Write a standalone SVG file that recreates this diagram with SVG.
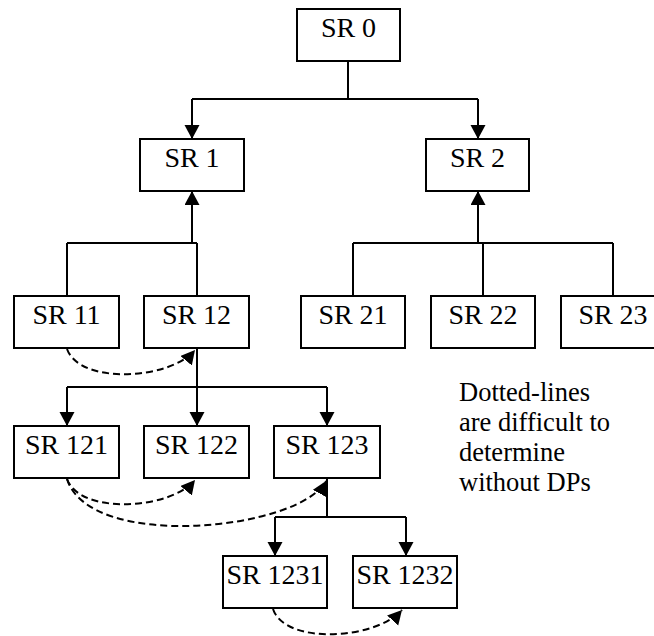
<svg xmlns="http://www.w3.org/2000/svg" width="654" height="636" viewBox="0 0 654 636">
  <style>
    .box rect { fill: #fff; stroke: #000; stroke-width: 2; }
    .box text { font-family: "Liberation Serif", serif; font-size: 28px; text-anchor: middle; fill: #000; }
    .wire { fill: none; stroke: #000; stroke-width: 2; }
    .dash { fill: none; stroke: #000; stroke-width: 2; stroke-dasharray: 7 4; }
    .note { font-family: "Liberation Serif", serif; font-size: 26.5px; fill: #000; }
  </style>
  <defs>
    <marker id="head" markerUnits="userSpaceOnUse" markerWidth="15" markerHeight="16" refX="14" refY="7.5" orient="auto">
      <path d="M0,0 L14,7.5 L0,15 z" fill="#000" stroke="none"/>
    </marker>
  </defs>

  <!-- connectors -->
  <g id="connectors">
    <!-- SR 0 to SR 1 / SR 2 -->
    <path class="wire" d="M348,61 V99 M192,99 H478"/>
    <path class="wire" d="M192,99 V139" marker-end="url(#head)"/>
    <path class="wire" d="M478,99 V139" marker-end="url(#head)"/>
    <!-- SR 11 / SR 12 up to SR 1 -->
    <path class="wire" d="M67,243 H197 M67,243 V296 M197,243 V296"/>
    <path class="wire" d="M192,243 V191" marker-end="url(#head)"/>
    <!-- SR 21 / SR 22 / SR 23 up to SR 2 -->
    <path class="wire" d="M353,243 H613 M353,243 V296 M483,243 V296 M613,243 V296"/>
    <path class="wire" d="M478,243 V191" marker-end="url(#head)"/>
    <!-- SR 12 down to SR 121 / SR 122 / SR 123 -->
    <path class="wire" d="M67,387 H327"/>
    <path class="wire" d="M197,348 V426" marker-end="url(#head)"/>
    <path class="wire" d="M67,387 V426" marker-end="url(#head)"/>
    <path class="wire" d="M327,387 V426" marker-end="url(#head)"/>
    <!-- SR 123 down to SR 1231 / SR 1232 -->
    <path class="wire" d="M327,478 V517 M275,517 H406"/>
    <path class="wire" d="M275,517 V556" marker-end="url(#head)"/>
    <path class="wire" d="M406,517 V556" marker-end="url(#head)"/>
    <!-- dotted links -->
    <path class="dash" d="M67,349 C80,385 170,380 195,350" marker-end="url(#head)"/>
    <path class="dash" d="M67,479 C80,515 170,510 195,480" marker-end="url(#head)"/>
    <path class="dash" d="M67,479 C90,552 300,530 326,481" marker-end="url(#head)"/>
    <path class="dash" d="M273,609 C285,645 375,640 402,610" marker-end="url(#head)"/>
  </g>

  <!-- nodes -->
  <g id="sr0" class="box"><rect x="297" y="9" width="103" height="52"/><text x="348.5" y="37">SR 0</text></g>
  <g id="sr1" class="box"><rect x="140" y="139" width="104" height="52"/><text x="192" y="167">SR 1</text></g>
  <g id="sr2" class="box"><rect x="426" y="139" width="103" height="52"/><text x="477.5" y="167">SR 2</text></g>
  <g id="sr11" class="box"><rect x="14" y="296" width="105" height="52"/><text x="66.5" y="324">SR 11</text></g>
  <g id="sr12" class="box"><rect x="144" y="296" width="105" height="52"/><text x="196.5" y="324">SR 12</text></g>
  <g id="sr21" class="box"><rect x="301" y="296" width="104" height="52"/><text x="353" y="324">SR 21</text></g>
  <g id="sr22" class="box"><rect x="431" y="296" width="104" height="52"/><text x="483" y="324">SR 22</text></g>
  <g id="sr23" class="box"><rect x="561" y="296" width="104" height="52"/><text x="613" y="324">SR 23</text></g>
  <g id="sr121" class="box"><rect x="14" y="426" width="105" height="52"/><text x="66.5" y="454">SR 121</text></g>
  <g id="sr122" class="box"><rect x="144" y="426" width="105" height="52"/><text x="196.5" y="454">SR 122</text></g>
  <g id="sr123" class="box"><rect x="274" y="426" width="106" height="52"/><text x="327" y="454">SR 123</text></g>
  <g id="sr1231" class="box"><rect x="223" y="556" width="104" height="52"/><text x="275" y="584">SR 1231</text></g>
  <g id="sr1232" class="box"><rect x="353" y="556" width="104" height="52"/><text x="405" y="584">SR 1232</text></g>

  <!-- side note -->
  <g id="note">
    <text class="note" x="459" y="401">Dotted-lines</text>
    <text class="note" x="459" y="431">are difficult to</text>
    <text class="note" x="459" y="461">determine</text>
    <text class="note" x="459" y="491">without DPs</text>
  </g>
</svg>
